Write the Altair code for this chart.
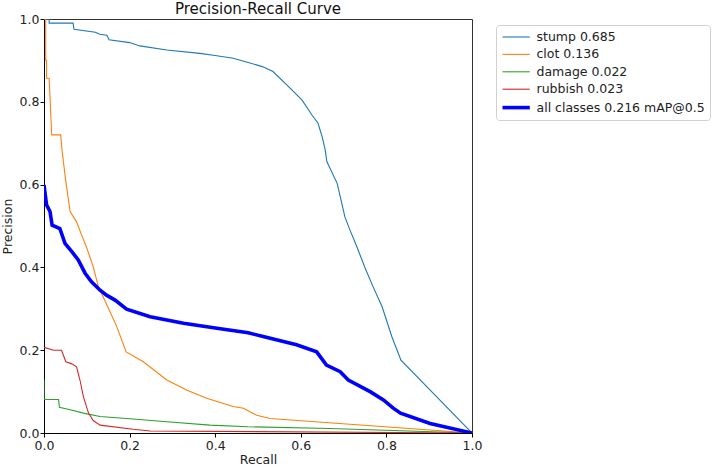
import altair as alt
import pandas as pd

# Per-class precision/recall curves (recall on x, precision on y)
stump_r = [0.0, 0.012, 0.012, 0.068, 0.07, 0.12, 0.13, 0.147, 0.152, 0.2, 0.224, 0.287, 0.364, 0.40,
           0.442, 0.477, 0.51, 0.535, 0.575, 0.603, 0.626, 0.64, 0.65, 0.657, 0.661, 0.685, 0.703,
           0.715, 0.731, 0.75, 0.769, 0.79, 0.813, 0.834, 1.0]
stump_p = [1.0, 1.0, 0.99, 0.99, 0.975, 0.968, 0.963, 0.961, 0.95, 0.943, 0.935, 0.925, 0.917, 0.912,
           0.905, 0.895, 0.885, 0.873, 0.833, 0.804, 0.768, 0.749, 0.715, 0.684, 0.655, 0.603, 0.522,
           0.49, 0.45, 0.399, 0.353, 0.305, 0.232, 0.176, 0.0]

clot_r = [0.0, 0.004, 0.004, 0.006, 0.006, 0.012, 0.018, 0.039, 0.042, 0.051, 0.061, 0.076, 0.088,
          0.1, 0.115, 0.127, 0.143, 0.17, 0.192, 0.232, 0.287, 0.333, 0.38, 0.442, 0.466, 0.497,
          0.528, 1.0]
clot_p = [1.0, 1.0, 0.9, 0.9, 0.857, 0.857, 0.72, 0.72, 0.684, 0.607, 0.535, 0.51, 0.478,
          0.447, 0.402, 0.353, 0.318, 0.257, 0.196, 0.172, 0.128, 0.104, 0.084, 0.064, 0.06, 0.043,
          0.035, 0.0]

damage_r = [0.0, 0.0, 0.034, 0.036, 0.061, 0.092, 0.131, 0.208, 0.287, 0.388, 0.477, 0.668, 1.0]
damage_p = [0.13, 0.081, 0.081, 0.062, 0.056, 0.048, 0.04, 0.034, 0.027, 0.019, 0.015, 0.011, 0.0]

rubbish_r = [0.0, 0.022, 0.041, 0.051, 0.065, 0.076, 0.084, 0.092, 0.104, 0.115, 0.131, 0.208,
             0.248, 1.0]
rubbish_p = [0.207, 0.2, 0.2, 0.172, 0.167, 0.16, 0.128, 0.088, 0.048, 0.03, 0.019, 0.009,
             0.005, 0.0]

all_r = [0.0, 0.006, 0.014, 0.019, 0.037, 0.049, 0.065, 0.08, 0.096, 0.111, 0.131, 0.146, 0.166,
         0.193, 0.248, 0.326, 0.404, 0.477, 0.512, 0.59, 0.637, 0.66, 0.692, 0.711, 0.762, 0.793,
         0.816, 0.833, 0.902, 1.0]
all_p = [0.599, 0.551, 0.535, 0.502, 0.494, 0.458, 0.438, 0.418, 0.386, 0.365, 0.345, 0.333, 0.321,
         0.299, 0.281, 0.265, 0.253, 0.242, 0.233, 0.213, 0.196, 0.164, 0.148, 0.128, 0.1, 0.08,
         0.06, 0.048, 0.023, 0.0]

labels = ["stump 0.685", "clot 0.136", "damage 0.022", "rubbish 0.023", "all classes 0.216 mAP@0.5"]
colors = ["#1f77b4", "#ff7f0e", "#2ca02c", "#d62728", "#0000ff"]
widths = [1.1, 1.1, 1.1, 1.1, 3.6]

series = [(labels[0], stump_r, stump_p), (labels[1], clot_r, clot_p),
          (labels[2], damage_r, damage_p), (labels[3], rubbish_r, rubbish_p),
          (labels[4], all_r, all_p)]

rows = []
for name, rs, ps in series:
    for i, (r, p) in enumerate(zip(rs, ps)):
        rows.append({"cls": name, "recall": r, "precision": p, "idx": i})
df = pd.DataFrame(rows)

font = "DejaVu Sans"

color = alt.Color("cls:N", scale=alt.Scale(domain=labels, range=colors),
                  legend=alt.Legend(title=None, orient="none", legendX=452, legendY=6,
                                    symbolType="M-1,0H3.2", symbolSize=169,
                                    labelFont=font, labelFontSize=12.5, labelColor="#222",
                                    labelLimit=400,
                                    strokeColor="#d0d0d0", cornerRadius=3, padding=4.5,
                                    rowPadding=3.4, labelOffset=19, fillColor="white"))
width = alt.StrokeWidth("cls:N", scale=alt.Scale(type="ordinal", domain=labels, range=widths),
                        legend=None)

ticks = [0, 0.2, 0.4, 0.6, 0.8, 1.0]
xenc = alt.X("recall:Q", title="Recall",
             scale=alt.Scale(domain=[0, 1], nice=False, zero=False),
             axis=alt.Axis(values=ticks, format=".1f", grid=False, labelFlush=False))
yenc = alt.Y("precision:Q", title="Precision",
             scale=alt.Scale(domain=[0, 1], nice=False, zero=False),
             axis=alt.Axis(values=ticks, format=".1f", grid=False, labelFlush=False))

thin = alt.Chart(df).transform_filter(
    alt.datum.cls != labels[4]
).mark_line(clip=True, interpolate="linear").encode(
    x=xenc, y=yenc, color=color, strokeWidth=width, order="idx:Q"
)
thick = alt.Chart(df).transform_filter(
    alt.datum.cls == labels[4]
).mark_line(clip=True, interpolate="linear").encode(
    x=xenc, y=yenc, color=color, strokeWidth=width, order="idx:Q"
)

chart = alt.layer(thin, thick).properties(
    width=428, height=414,
    title=alt.TitleParams("Precision-Recall Curve", font=font, fontSize=15,
                          fontWeight="normal", color="#111", offset=-4, frame="group"),
    autosize=alt.AutoSizeParams(type="none"),
    padding={"left": 44, "top": 19, "right": 242, "bottom": 36},
).configure_view(
    stroke="#333", strokeWidth=1
).configure_axis(
    labelFont=font, labelFontSize=12.5, labelColor="#222",
    titleFont=font, titleFontSize=12.5, titleFontWeight="normal", titleColor="#222",
    domainColor="#000", tickColor="#000", tickSize=4, labelPadding=2,
).configure_axisX(titlePadding=2).configure_axisY(titlePadding=5, labelPadding=1)

chart.save("out.html", embed_options={"renderer": "svg", "actions": False})
